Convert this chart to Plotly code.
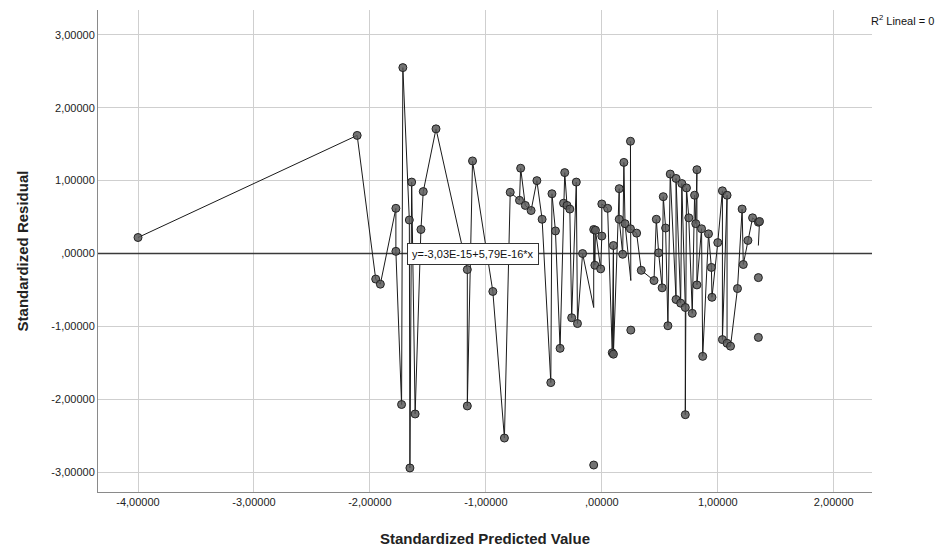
import plotly.graph_objects as go

# Path of the interpolation line (data order along x); markers shown where flag is 1
path_x = [-4.00, -2.11, -1.95, -1.91, -1.776, -1.776, -1.727, -1.716, -1.66, -1.655, -1.64, -1.61,
          -1.56, -1.54, -1.43, -1.16, -1.16, -1.115, -0.94, -0.84, -0.79, -0.71, -0.70, -0.66,
          -0.61, -0.56, -0.515, -0.44, -0.43, -0.40, -0.36, -0.33, -0.32, -0.30, -0.276, -0.26,
          -0.22, -0.21, -0.166, -0.07, -0.07, -0.06, -0.055, -0.01, 0.0, 0.0, 0.05, 0.09,
          0.10, 0.10, 0.15, 0.15, 0.18, 0.19, 0.20, 0.25, 0.247, 0.247, 0.30, 0.34,
          0.45, 0.47, 0.49, 0.52, 0.53, 0.55, 0.57, 0.59, 0.64, 0.64, 0.68, 0.69,
          0.72, 0.72, 0.73, 0.75, 0.78, 0.80, 0.81, 0.82, 0.82, 0.86, 0.87, 0.92,
          0.945, 0.95, 1.00, 1.04, 1.04, 1.08, 1.08, 1.11, 1.17, 1.21, 1.22, 1.26,
          1.30, 1.35, 1.36, 1.35]
path_y = [0.22, 1.62, -0.35, -0.42, 0.62, 0.03, -2.07, 2.55, 0.46, -2.94, 0.98, -2.20,
          0.33, 0.85, 1.71, -0.22, -2.09, 1.27, -0.52, -2.53, 0.84, 0.73, 1.17, 0.66,
          0.59, 1.00, 0.47, -1.77, 0.82, 0.31, -1.30, 0.69, 1.11, 0.66, 0.61, -0.88,
          0.98, -0.96, 0.00, -0.74, 0.33, -0.16, 0.32, -0.21, 0.24, 0.68, 0.62, -1.36,
          0.11, -1.38, 0.89, 0.47, -0.01, 1.25, 0.41, -0.37, 1.54, 0.34, 0.28, -0.23,
          -0.37, 0.47, 0.01, -0.47, 0.78, 0.35, -0.99, 1.09, -0.63, 1.03, -0.68, 0.96,
          -0.74, -2.21, 0.90, 0.49, -0.82, 0.80, 0.41, 1.15, -0.43, 0.34, -1.41, 0.27,
          -0.19, -0.60, 0.15, 0.86, -1.18, 0.80, -1.23, -1.27, -0.48, 0.61, -0.15, 0.18,
          0.49, 0.43, 0.44, 0.11]
path_marker = [1] * 39 + [0] + [1] * 15 + [0] + [1] * 43 + [0]

# Points without interpolation line
iso_x = [-0.07, 0.25, 1.35, 1.35]
iso_y = [-2.90, -1.05, -0.33, -1.15]

# Linear fit
fit_a = -3.03e-15
fit_b = 5.79e-16
x_range = [-4.345, 2.33]
y_range = [-3.27, 3.34]

tick_vals_x = [-4, -3, -2, -1, 0, 1, 2]
tick_text_x = ["-4,00000", "-3,00000", "-2,00000", "-1,00000", ",00000", "1,00000", "2,00000"]
tick_vals_y = [-3, -2, -1, 0, 1, 2, 3]
tick_text_y = ["-3,00000", "-2,00000", "-1,00000", ",00000", "1,00000", "2,00000", "3,00000"]

FONT = "Liberation Sans, Arial, sans-serif"

fig = go.Figure()

fig.add_trace(go.Scatter(
    x=x_range, y=[fit_a + fit_b * v for v in x_range], mode="lines",
    line=dict(color="#3a3a3a", width=1.6), hoverinfo="skip", showlegend=False))

fig.add_trace(go.Scatter(
    x=path_x, y=path_y, mode="lines",
    line=dict(color="#1a1a1a", width=1), showlegend=False))

mx = [x for x, m in zip(path_x, path_marker) if m] + iso_x
my = [y for y, m in zip(path_y, path_marker) if m] + iso_y
fig.add_trace(go.Scatter(
    x=mx, y=my, mode="markers",
    marker=dict(size=8, color="rgba(90,90,90,0.85)", line=dict(color="#222222", width=1)),
    showlegend=False))

fig.add_annotation(
    x=-1.68, y=0, xref="x", yref="y", xanchor="left", yanchor="middle",
    text="y=-3,03E-15+5,79E-16*x", showarrow=False,
    font=dict(family=FONT, size=11, color="#111111"),
    bgcolor="white", bordercolor="#333333", borderwidth=1, borderpad=4)

fig.add_annotation(
    x=1.083, y=0.979, xref="paper", yref="paper", xanchor="right", yanchor="middle",
    text="R<sup>2</sup> Lineal = 0", showarrow=False,
    font=dict(family="Liberation Sans Narrow, Liberation Sans, Arial, sans-serif",
              size=11, color="#111111"))

fig.update_layout(
    width=944, height=551,
    margin=dict(l=90, r=80, t=2, b=67),
    paper_bgcolor="white", plot_bgcolor="white",
    font=dict(family=FONT, size=11, color="#222222"),
    xaxis=dict(range=x_range, tickvals=tick_vals_x, ticktext=tick_text_x,
               showgrid=True, gridcolor="#cfcfcf", gridwidth=1, zeroline=False,
               showline=True, linecolor="#8a8a8a", linewidth=1, automargin=False,
               ticks="", tickfont=dict(size=11, color="#222222"),
               title=dict(text="<b>Standardized Predicted Value</b>", standoff=26,
                          font=dict(size=15, color="#222222"))),
    yaxis=dict(range=y_range, tickvals=tick_vals_y, ticktext=tick_text_y,
               showgrid=True, gridcolor="#cfcfcf", gridwidth=1, zeroline=False,
               showline=True, linecolor="#8a8a8a", linewidth=1, automargin=False,
               ticks="", tickfont=dict(size=11, color="#222222"),
               title=dict(text="<b>Standardized Residual</b>", standoff=19,
                          font=dict(size=15, color="#222222"))),
)

fig.write_html("out.html")
